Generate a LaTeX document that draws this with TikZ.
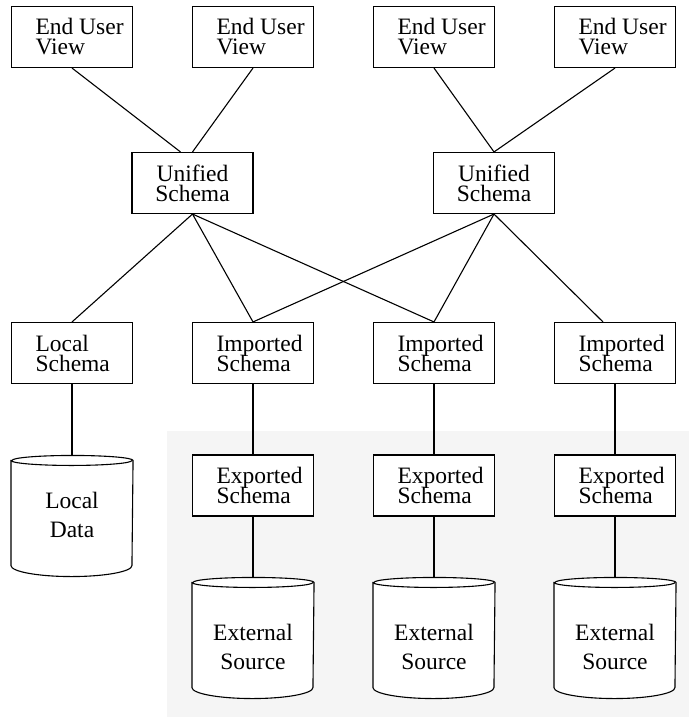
\documentclass[tikz,border=0pt]{standalone}
\usepackage{fontspec}
\setmainfont{Liberation Serif}
\newcommand{\BoxT}[2]{\makebox[73pt][l]{#1}\\\makebox[73pt][l]{#2}}
\newcommand{\BoxF}{\fontsize{23.5}{20}\selectfont\lineskiplimit=-50pt\relax}
% cylinder outline round an empty body node
\newcommand{\CylOutline}[1]{%
	\draw[fill=white] (#1.north west) -- (#1.south west)
		arc[start angle=180, end angle=360, x radius=60.5pt, y radius=11pt]
		-- (#1.north east)
		arc[start angle=0, end angle=180, x radius=60.5pt, y radius=5pt] -- cycle;
	\draw (#1.north west) arc[start angle=180, end angle=360, x radius=60.5pt, y radius=5pt];
	\coordinate (#1Top) at ([yshift=5pt]#1.north);}

\begin{document}
\begin{tikzpicture}[x=1pt, y=1pt, line width=1.1pt]
			\tikzstyle{boxs} = [draw, fill=white, minimum width=121pt, minimum height=61pt,
				inner sep=0pt, align=left, font=\BoxF]
			\tikzstyle{boxsU} = [boxs, align=center]
			\tikzstyle{cyls} = [minimum width=121pt, minimum height=104pt, inner sep=0pt]
			\tikzstyle{cylT} = [align=center, font=\fontsize{23.5}{29.5}\selectfont]
			\tikzstyle{conn} = [draw]

			\useasboundingbox (0,0) rectangle (689,-717);
			\fill[black!4] (167,-431) rectangle (689,-717);

			\tikzset{node distance = 181pt}
			\node(EndUserA)[boxs] at (72,-37){\BoxT{End User}{View}};
			\node(EndUserB)[boxs,right of = EndUserA]{\BoxT{End User}{View}};
			\node(EndUserC)[boxs,right of = EndUserB]{\BoxT{End User}{View}};
			\node(EndUserD)[boxs,right of = EndUserC]{\BoxT{End User}{View}};

			\node(UnifiedA)[boxsU] at (192.5,-183){Unified\\Schema};
			\node(UnifiedB)[boxsU] at (494,-183){Unified\\Schema};

			\node(LocalSchema)[boxs] at (72,-353){\BoxT{Local}{Schema}};
			\node(ImportedA)[boxs,right of = LocalSchema]{\BoxT{Imported}{Schema}};
			\node(ImportedB)[boxs,right of = ImportedA]{\BoxT{Imported}{Schema}};
			\node(ImportedC)[boxs,right of = ImportedB]{\BoxT{Imported}{Schema}};

			\node(ExportedA)[boxs] at (253,-485.5){\BoxT{Exported}{Schema}};
			\node(ExportedB)[boxs,right of = ExportedA]{\BoxT{Exported}{Schema}};
			\node(ExportedC)[boxs,right of = ExportedB]{\BoxT{Exported}{Schema}};

			\node(LocalData)[cyls] at (72,-513){};
			\node(ExternalA)[cyls] at (253,-635){};
			\node(ExternalB)[cyls,right of = ExternalA]{};
			\node(ExternalC)[cyls,right of = ExternalB]{};
			\CylOutline{LocalData}
			\CylOutline{ExternalA}
			\CylOutline{ExternalB}
			\CylOutline{ExternalC}
			\node(LocalDataT)[cylT] at (72,-515){Local\\Data};
			\node(ExternalAT)[cylT] at (253,-647){External\\Source};
			\node(ExternalBT)[cylT,right of = ExternalAT]{External\\Source};
			\node(ExternalCT)[cylT,right of = ExternalBT]{External\\Source};

			\draw[conn] (EndUserA.south) -- ([xshift=-12pt]UnifiedA.north);
			\draw[conn] (EndUserB.south) -- (UnifiedA.north);
			\draw[conn] (EndUserC.south) -- (UnifiedB.north);
			\draw[conn] (EndUserD.south) -- (UnifiedB.north);

			\draw[conn] (UnifiedA.south) -- (LocalSchema.north);
			\draw[conn] (UnifiedA.south) -- (ImportedA.north);
			\draw[conn] (UnifiedA.south) -- (ImportedB.north);
			\draw[conn] (UnifiedB.south) -- (ImportedA.north);
			\draw[conn] (UnifiedB.south) -- (ImportedB.north);
			\draw[conn] (UnifiedB.south) -- ([xshift=-12pt]ImportedC.north);

			\draw[conn] (LocalSchema.south) -- (LocalDataTop);
			\draw[conn] (ImportedA.south) -- (ExportedA.north);
			\draw[conn] (ImportedB.south) -- (ExportedB.north);
			\draw[conn] (ImportedC.south) -- (ExportedC.north);
			\draw[conn] (ExportedA.south) -- (ExternalATop);
			\draw[conn] (ExportedB.south) -- (ExternalBTop);
			\draw[conn] (ExportedC.south) -- (ExternalCTop);

		\end{tikzpicture}
\end{document}
